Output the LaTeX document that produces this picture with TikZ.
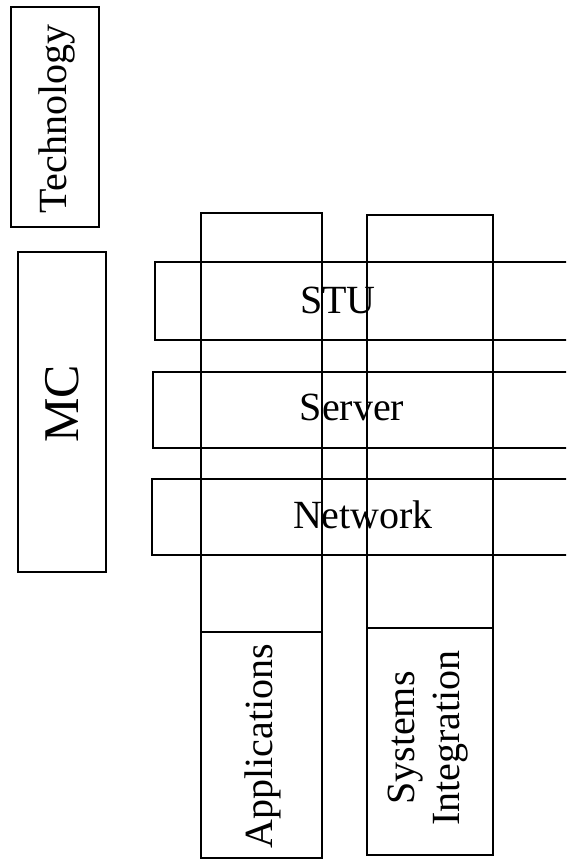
\documentclass[tikz,border=0pt]{standalone}
\usepackage{fontspec}
\setmainfont{Liberation Serif}
\begin{document}
\begin{tikzpicture}[x=1pt,y=-1pt,
  frame/.style={draw=black,line width=1.6pt},
  lbl/.style={inner sep=0pt,font=\fontsize{40}{45}\selectfont},
  big/.style={inner sep=0pt,font=\fontsize{50}{55}\selectfont}]
\useasboundingbox (0,0) rectangle (566,860);
\clip (0,0) rectangle (566,860);
% left boxes
\draw[frame] (11,7) rectangle (99,227);
\node[lbl,rotate=90] (tech) at (57,119) {Technology};
\draw[frame] (18,252) rectangle (106,572);
\node[big,rotate=90] (mc) at (62,404) {MC};
% columns
\draw[frame] (201,213) rectangle (322,858);
\draw[frame] (201,632) -- (322,632);
\draw[frame] (367,215) rectangle (493,855);
\draw[frame] (367,628) -- (493,628);
\node[lbl,rotate=90] (app) at (263,746) {Applications};
\node[lbl,rotate=90,align=center] (sys) at (428,738) {Systems\\Integration};
% rows
\draw[frame] (155,262) rectangle (620,340);
\node[lbl] (stu) at (338,300) {STU};
\draw[frame] (153,372) rectangle (620,448);
\node[lbl] (server) at (352,407) {Server};
\draw[frame] (152,479) rectangle (620,555);
\node[lbl] (network) at (363,515) {Network};
\end{tikzpicture}
\end{document}
